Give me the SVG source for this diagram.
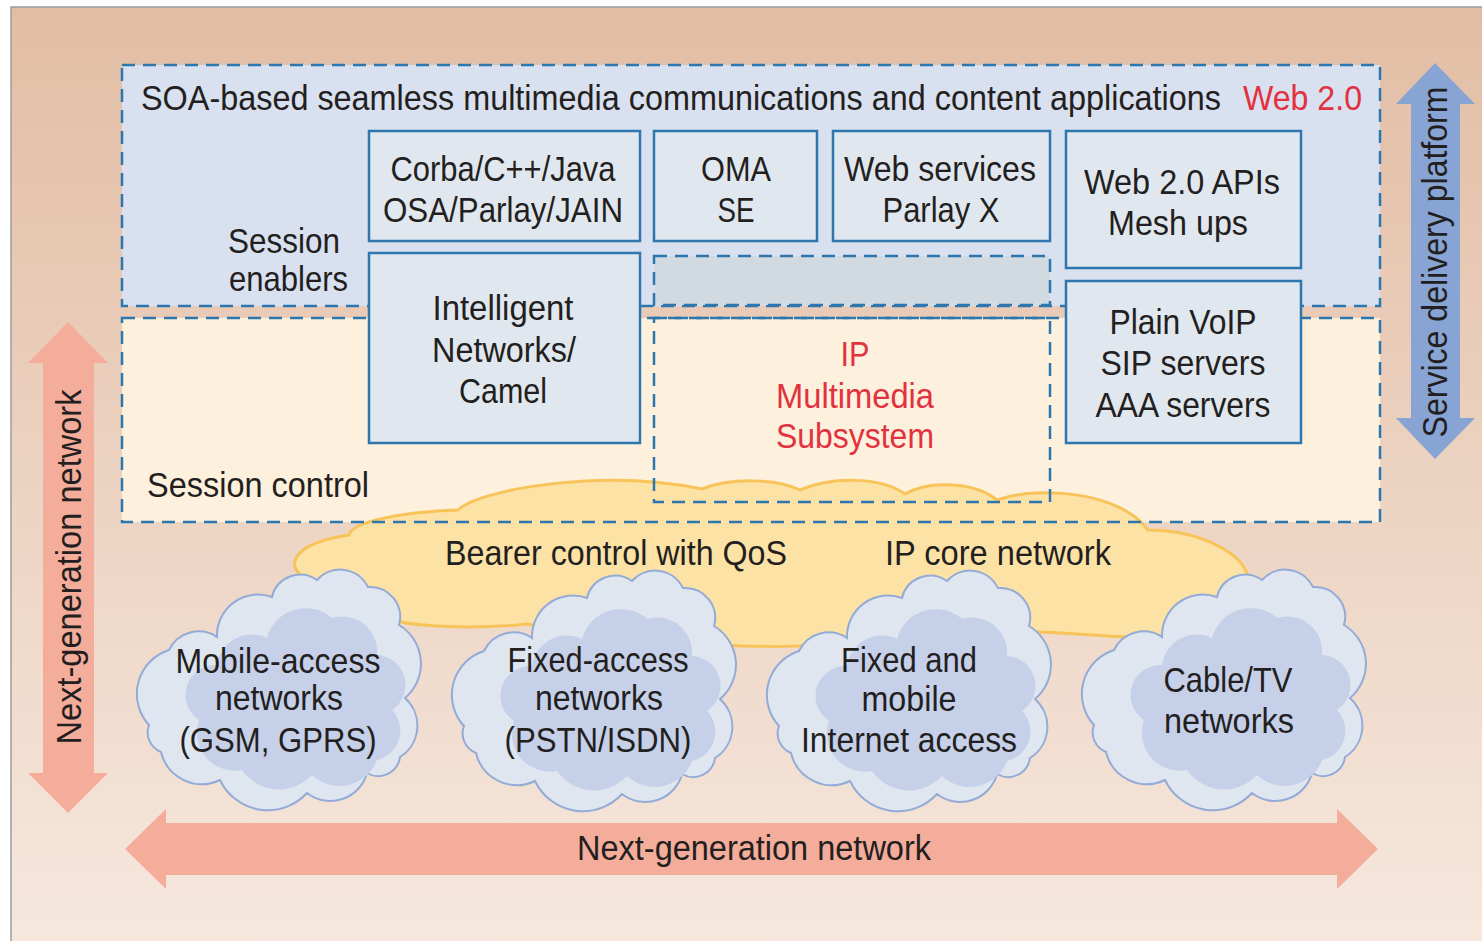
<svg xmlns="http://www.w3.org/2000/svg" width="1482" height="941" viewBox="0 0 1482 941">
  <defs>
    <linearGradient id="bg" x1="0" y1="0" x2="0" y2="1">
      <stop offset="0" stop-color="#e2bda4"/>
      <stop offset="1" stop-color="#f6e8de"/>
    </linearGradient>
    <!-- access-network cloud outline and its darker core, in local coordinates -->
    <path id="cloudOuter" d="M 12,155 A 46,46 0 0 1 32,80 A 33,33 0 0 1 80,67 A 41,41 0 0 1 135,27 A 29,29 0 0 1 180,10 A 31,31 0 0 1 231,17 A 30,30 0 0 1 262,55 A 45,45 0 0 1 268,128 A 37,37 0 0 1 263,187 A 22,22 0 0 1 230,203 A 38,38 0 0 1 170,223 A 53,53 0 0 1 83,210 A 42,42 0 0 1 24,182 A 21,21 0 0 1 12,155 Z"/>
    <path id="cloudInner" d="M 62,150 A 30,30 0 0 1 80,95 A 35,35 0 0 1 130,68 A 40,40 0 0 1 195,48 A 35,35 0 0 1 240,85 A 30,30 0 0 1 255,140 A 30,30 0 0 1 240,190 A 40,40 0 0 1 175,205 A 45,45 0 0 1 105,200 A 38,38 0 0 1 62,150 Z"/>
  </defs>
  <style>
    .t { font-family: "Liberation Sans", Arial, sans-serif; font-size: 35px; fill: #231f20; }
    .mid { text-anchor: middle; }
    .red { fill: #e2313f; }
    .box { fill: #e1e7ef; stroke: #2e77ae; stroke-width: 2.5; }
    .dash { fill: none; stroke: #2e77ae; stroke-width: 2.5; stroke-dasharray: 13 8; }
    .salmon { fill: #f4ac9b; }
    .blueArrow { fill: #87a4d4; }
    .cOuter { fill: #dfe6f0; stroke: #93abd6; stroke-width: 2; }
    .cInner { fill: #c6d0e9; }
  </style>

  <!-- page and frame -->
  <rect x="0" y="0" width="1482" height="941" fill="#ffffff"/>
  <rect x="11" y="7" width="1480" height="945" fill="url(#bg)" stroke="#9c9c9c" stroke-width="1.5"/>

  <!-- double arrows -->
  <g id="ngn-vertical">
    <polygon class="salmon" points="68,322 108,363 94,363 94,773 108,773 68,813 28,773 43,773 43,363 28,363"/>
    <text class="t mid" transform="translate(81,567) rotate(-90)" textLength="355" lengthAdjust="spacingAndGlyphs">Next-generation network</text>
  </g>
  <g id="service-delivery-platform">
    <polygon class="blueArrow" points="1435,63 1475,104 1460,104 1460,418 1475,418 1435,459 1396,418 1411,418 1411,104 1396,104"/>
    <text class="t mid" transform="translate(1447,262) rotate(-90)" textLength="351" lengthAdjust="spacingAndGlyphs">Service delivery platform</text>
  </g>
  <g id="ngn-horizontal">
    <polygon class="salmon" points="125,849 166,809 166,823 1337,823 1337,809 1378,849 1337,889 1337,875 166,875 166,889"/>
    <text class="t mid" x="754" y="860" textLength="354" lengthAdjust="spacingAndGlyphs">Next-generation network</text>
  </g>

  <!-- layer backgrounds -->
  <g id="soa-layer">
    <rect x="122" y="65" width="1258" height="241" fill="#d9e0ef"/>
    <!-- long heading drawn horizontally condensed -->
    <text class="t" transform="translate(141,110) scale(0.9,1)" textLength="1200" lengthAdjust="spacingAndGlyphs">SOA-based seamless multimedia communications and content applications</text>
    <text class="t red" x="1243" y="110" textLength="119" lengthAdjust="spacingAndGlyphs">Web 2.0</text>
    <text class="t" x="228" y="253" textLength="112" lengthAdjust="spacingAndGlyphs">Session</text>
    <text class="t" x="229" y="291" textLength="119" lengthAdjust="spacingAndGlyphs">enablers</text>
  </g>
  <g id="session-control">
    <rect x="122" y="318" width="1258" height="204" fill="#fdf0dc"/>
    <text class="t" x="147" y="497" textLength="222" lengthAdjust="spacingAndGlyphs">Session control</text>
  </g>

  <!-- IP core network cloud -->
  <g id="ip-core">
    <path d="M 318,584 C 285,575 280,545 349,535 C 352,522 400,512 458,510 C 478,490 600,468 702,489 C 730,478 775,478 800,490 C 830,477 880,476 905,494 C 930,480 975,482 997,500 C 1040,485 1120,492 1148,530 C 1200,530 1250,555 1248,582 C 1247,592 1242,596 1236,598 C 1230,625 1190,636 1158,636 C 1120,640 1070,632 1036,632 C 960,640 800,650 723,645 C 640,640 560,630 527,624 C 490,628 440,628 406,623 C 370,615 335,600 318,584 Z" fill="#fde2a6" stroke="#f8c45a" stroke-width="3"/>
    <text class="t" x="445" y="565" textLength="342" lengthAdjust="spacingAndGlyphs">Bearer control with QoS</text>
    <text class="t" x="885" y="565" textLength="226" lengthAdjust="spacingAndGlyphs">IP core network</text>
  </g>

  <!-- dashed layer outlines -->
  <g id="layer-outlines">
    <rect class="dash" x="122" y="65" width="1258" height="241"/>
    <rect class="dash" x="122" y="318" width="1258" height="204"/>
  </g>

  <!-- service enablers -->
  <g id="corba">
    <rect class="box" x="369" y="131" width="271" height="110"/>
    <text class="t mid" x="503" y="181" textLength="225" lengthAdjust="spacingAndGlyphs">Corba/C++/Java</text>
    <text class="t mid" x="503" y="222" textLength="240" lengthAdjust="spacingAndGlyphs">OSA/Parlay/JAIN</text>
  </g>
  <g id="oma-se">
    <rect class="box" x="654" y="131" width="163" height="110"/>
    <text class="t mid" x="736" y="181" textLength="70" lengthAdjust="spacingAndGlyphs">OMA</text>
    <text class="t mid" x="736" y="222" textLength="37" lengthAdjust="spacingAndGlyphs">SE</text>
  </g>
  <g id="web-services">
    <rect class="box" x="833" y="131" width="217" height="110"/>
    <text class="t mid" x="940" y="181" textLength="192" lengthAdjust="spacingAndGlyphs">Web services</text>
    <text class="t mid" x="941" y="222" textLength="117" lengthAdjust="spacingAndGlyphs">Parlay X</text>
  </g>
  <g id="web20-apis">
    <rect class="box" x="1066" y="131" width="235" height="137"/>
    <text class="t mid" x="1182" y="194" textLength="196" lengthAdjust="spacingAndGlyphs">Web 2.0 APIs</text>
    <text class="t mid" x="1178" y="235" textLength="140" lengthAdjust="spacingAndGlyphs">Mesh ups</text>
  </g>
  <g id="intelligent-networks">
    <rect class="box" x="369" y="253" width="271" height="190"/>
    <text class="t mid" x="503" y="320" textLength="141" lengthAdjust="spacingAndGlyphs">Intelligent</text>
    <text class="t mid" x="504" y="362" textLength="144" lengthAdjust="spacingAndGlyphs">Networks/</text>
    <text class="t mid" x="503" y="403" textLength="88" lengthAdjust="spacingAndGlyphs">Camel</text>
  </g>
  <g id="ims-enabler">
    <rect x="654" y="256" width="396" height="49" fill="#d1d9e1"/>
    <rect class="dash" x="654" y="256" width="396" height="49"/>
  </g>
  <g id="ims">
    <rect class="dash" x="654" y="318" width="396" height="184"/>
    <text class="t mid red" x="855" y="366" textLength="29" lengthAdjust="spacingAndGlyphs">IP</text>
    <text class="t mid red" x="855" y="408" textLength="158" lengthAdjust="spacingAndGlyphs">Multimedia</text>
    <text class="t mid red" x="855" y="448" textLength="158" lengthAdjust="spacingAndGlyphs">Subsystem</text>
  </g>
  <g id="plain-voip">
    <rect class="box" x="1066" y="281" width="235" height="162"/>
    <text class="t mid" x="1183" y="334" textLength="147" lengthAdjust="spacingAndGlyphs">Plain VoIP</text>
    <text class="t mid" x="1183" y="375" textLength="165" lengthAdjust="spacingAndGlyphs">SIP servers</text>
    <text class="t mid" x="1183" y="417" textLength="175" lengthAdjust="spacingAndGlyphs">AAA servers</text>
  </g>

  <!-- access networks -->
  <g id="mobile-access">
    <g transform="translate(137,570)">
      <use href="#cloudOuter" class="cOuter"/>
      <use href="#cloudInner" class="cInner"/>
    </g>
    <text class="t mid" x="278" y="673" textLength="205" lengthAdjust="spacingAndGlyphs">Mobile-access</text>
    <text class="t mid" x="279" y="710" textLength="128" lengthAdjust="spacingAndGlyphs">networks</text>
    <text class="t mid" x="278" y="752" textLength="197" lengthAdjust="spacingAndGlyphs">(GSM, GPRS)</text>
  </g>
  <g id="fixed-access">
    <g transform="translate(452,571)">
      <use href="#cloudOuter" class="cOuter"/>
      <use href="#cloudInner" class="cInner"/>
    </g>
    <text class="t mid" x="598" y="672" textLength="181" lengthAdjust="spacingAndGlyphs">Fixed-access</text>
    <text class="t mid" x="599" y="710" textLength="128" lengthAdjust="spacingAndGlyphs">networks</text>
    <text class="t mid" x="598" y="752" textLength="187" lengthAdjust="spacingAndGlyphs">(PSTN/ISDN)</text>
  </g>
  <g id="internet-access">
    <g transform="translate(767,571)">
      <use href="#cloudOuter" class="cOuter"/>
      <use href="#cloudInner" class="cInner"/>
    </g>
    <text class="t mid" x="909" y="672" textLength="136" lengthAdjust="spacingAndGlyphs">Fixed and</text>
    <text class="t mid" x="909" y="711" textLength="95" lengthAdjust="spacingAndGlyphs">mobile</text>
    <text class="t mid" x="909" y="752" textLength="216" lengthAdjust="spacingAndGlyphs">Internet access</text>
  </g>
  <g id="cable-tv">
    <g transform="translate(1082,570)">
      <use href="#cloudOuter" class="cOuter"/>
      <use href="#cloudInner" class="cInner"/>
    </g>
    <text class="t mid" x="1228" y="692" textLength="129" lengthAdjust="spacingAndGlyphs">Cable/TV</text>
    <text class="t mid" x="1229" y="733" textLength="130" lengthAdjust="spacingAndGlyphs">networks</text>
  </g>
</svg>
